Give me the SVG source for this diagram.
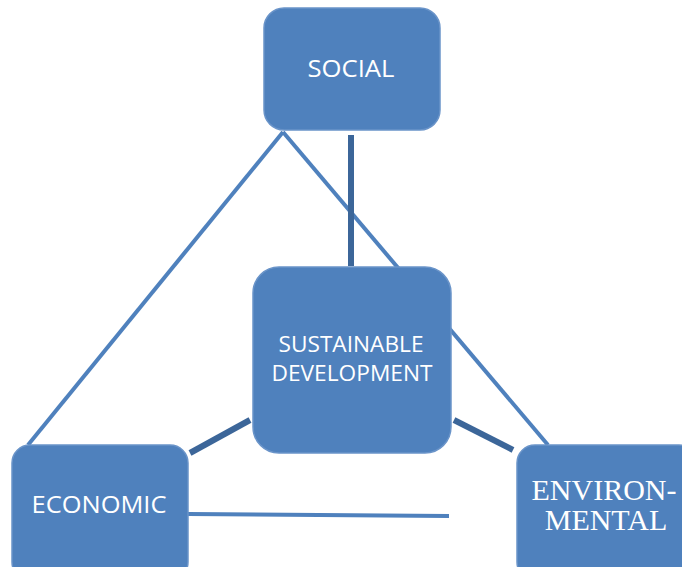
<svg xmlns="http://www.w3.org/2000/svg" width="682" height="567" viewBox="0 0 682 567">
<style>
.box{fill:#4f81bd;stroke:#6a94c9;stroke-width:1.5}
.t{fill:#ffffff;font-family:"Open Sans","Liberation Sans",sans-serif;font-size:23px;text-anchor:middle}
.sd{font-size:21px}
.ts{fill:#ffffff;font-family:"Liberation Serif",serif;font-size:30px;text-anchor:middle}
.ln{stroke:#4f81bd;stroke-width:4;fill:none}
.dk{stroke:#3c6699;stroke-width:6;fill:none}
</style>
<rect width="682" height="567" fill="#ffffff"/>
<g id="connectors">
<line class="ln" x1="283" y1="132" x2="28" y2="445"/>
<line class="ln" x1="283" y1="132" x2="548" y2="445"/>
<line class="dk" x1="351" y1="135" x2="351" y2="266"/>
<line class="dk" x1="190" y1="453" x2="250" y2="420"/>
<line class="dk" x1="454" y1="420" x2="513" y2="450"/>
<line class="ln" x1="188" y1="514" x2="449" y2="516"/>
</g>
<g id="sustainable">
<rect class="box" x="253" y="267" width="198" height="186" rx="26"/>
<text class="t sd" x="351" y="352" textLength="145" lengthAdjust="spacingAndGlyphs">SUSTAINABLE</text>
<text class="t sd" x="352" y="381" textLength="161" lengthAdjust="spacingAndGlyphs">DEVELOPMENT</text>
</g>
<g id="social">
<rect class="box" x="264" y="8" width="176" height="122" rx="20"/>
<text class="t" x="351" y="77" textLength="87" lengthAdjust="spacingAndGlyphs">SOCIAL</text>
</g>
<g id="economic">
<rect class="box" x="12" y="445" width="176" height="135" rx="18"/>
<text class="t" x="99" y="513" textLength="135" lengthAdjust="spacingAndGlyphs">ECONOMIC</text>
</g>
<g id="environmental">
<rect class="box" x="517" y="445" width="180" height="135" rx="18"/>
<text class="ts" x="604" y="500">ENVIRON-</text>
<text class="ts" x="606" y="530">MENTAL</text>
</g>
</svg>
